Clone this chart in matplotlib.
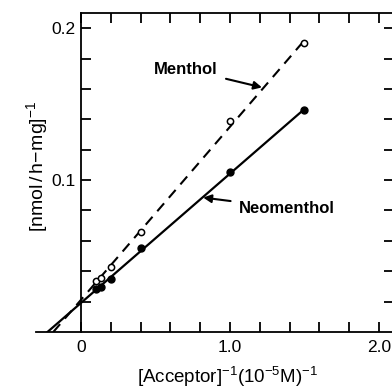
import numpy as np
import matplotlib
matplotlib.use('Agg')
import matplotlib.pyplot as plt

plt.rcParams['font.family'] = ['Liberation Sans', 'DejaVu Sans']
plt.rcParams['mathtext.fontset'] = 'custom'
plt.rcParams['mathtext.rm'] = 'Liberation Sans'
plt.rcParams['mathtext.it'] = 'Liberation Sans'

# reciprocal acceptor concentration, (10^-5 M)^-1
menthol_x = [0.1, 0.133, 0.2, 0.4, 1.0, 1.5]
menthol_y = [0.0335, 0.0356, 0.043, 0.066, 0.1386, 0.190]
neomenthol_x = [0.1, 0.133, 0.2, 0.4, 1.0, 1.5]
neomenthol_y = [0.028, 0.0295, 0.035, 0.055, 0.105, 0.146]

xticks = [0, 0.2, 0.4, 0.6, 0.8, 1.0, 1.2, 1.4, 1.6, 1.8, 2.0]
xticklabels = ['0', '', '', '', '', '1.0', '', '', '', '', '2.0']
yticks = [0.02, 0.04, 0.06, 0.08, 0.1, 0.12, 0.14, 0.16, 0.18, 0.2]
yticklabels = ['', '', '', '', '0.1', '', '', '', '', '0.2']

fig = plt.figure(figsize=(3.92, 3.9), dpi=100)
ax = fig.add_axes([0.0926, 0.1487, 0.912, 0.818])


def fit_line(xs, ys):
    slope, icept = np.polyfit(xs, ys, 1)
    x0 = -icept / slope
    xx = np.array([x0, max(xs)])
    return xx, slope * xx + icept


mx, my = fit_line(menthol_x, menthol_y)
nx, ny = fit_line(neomenthol_x, neomenthol_y)
ax.plot(mx, my, color='black', lw=1.5, ls=(0, (5, 3.5)))
ax.plot(nx, ny, color='black', lw=1.6)
ax.plot(menthol_x, menthol_y, 'o', ms=4.5, mfc='white', mec='black', mew=1.1)
ax.plot(neomenthol_x, neomenthol_y, 'o', ms=5, color='black')

ax.set_xlim(-0.3, 2.1)
ax.set_ylim(0, 0.21)

ax.spines['left'].set_position(('data', 0))
ax.spines['top'].set_bounds(0, 2.1)
ax.spines['right'].set_visible(False)
for s in ax.spines.values():
    s.set_linewidth(1.3)

ax.set_xticks(xticks)
ax.set_xticklabels(xticklabels)
ax.set_yticks(yticks)
ax.set_yticklabels(yticklabels)
ax.tick_params(direction='in', length=7, width=1.3, top=True, right=True,
               labelsize=12.5)
ax.tick_params(axis='x', pad=6)
ax.tick_params(axis='y', pad=4)

ax.annotate('Menthol', xy=(1.215, 0.161), xytext=(0.705, 0.173),
            ha='center', va='center', fontsize=12, fontweight='bold',
            arrowprops=dict(arrowstyle='-|>', color='black', lw=1.5,
                            mutation_scale=12, shrinkA=4, shrinkB=0))
ax.annotate('Neomenthol', xy=(0.82, 0.0885), xytext=(1.06, 0.0815),
            ha='left', va='center', fontsize=12, fontweight='bold',
            arrowprops=dict(arrowstyle='-|>', color='black', lw=1.5,
                            mutation_scale=12, shrinkA=4, shrinkB=0))

ax.set_xlabel(r'$\left[\mathrm{Acceptor}\right]^{-1}(10^{-5}\mathrm{M})^{-1}$',
              fontsize=13.5, va='center')
ax.xaxis.set_label_coords((228 - 36.3) / 357.6, -0.14)
ax.set_ylabel(r'$\left[\mathrm{nmol\,/\,h\!-\!mg}\right]^{-1}$', fontsize=14,
              va='center')
ax.yaxis.set_label_coords((37 - 36.3) / 357.6, 0.52)

fig.savefig('out.png', dpi=100)
